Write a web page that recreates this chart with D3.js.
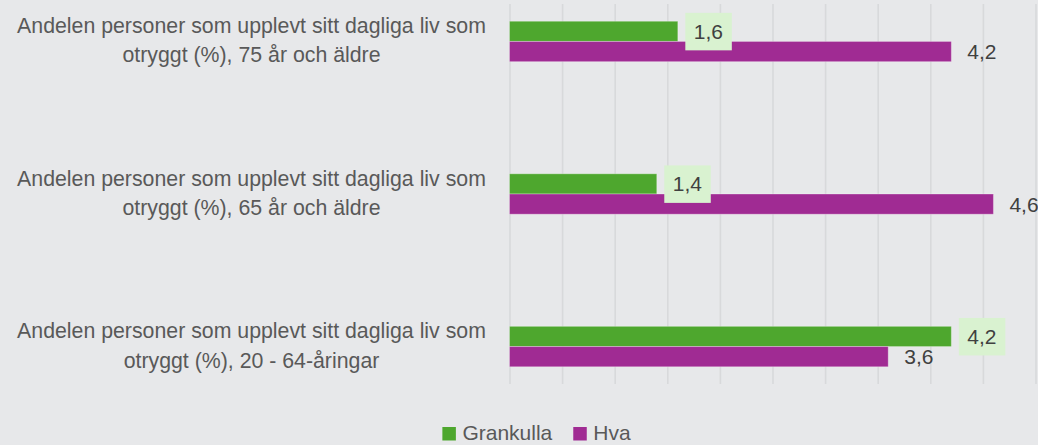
<!DOCTYPE html>
<html>
<head>
<meta charset="utf-8">
<script src="https://cdn.jsdelivr.net/npm/d3@7"></script>
<style>
  html, body { margin: 0; padding: 0; background: #e7e8ea; }
  svg { display: block; }
</style>
</head>
<body>
<svg id="chart" width="1038" height="445"></svg>
<script>
// Kategorier (uppifrån och ned)
const categories = [
  "Andelen personer som upplevt sitt dagliga liv som otryggt (%), 75 år och äldre",
  "Andelen personer som upplevt sitt dagliga liv som otryggt (%), 65 år och äldre",
  "Andelen personer som upplevt sitt dagliga liv som otryggt (%), 20 - 64-åringar"
];
const seriesNames = ["Grankulla", "Hva"];
const grankulla = [1.6, 1.4, 4.2];
const hva = [4.2, 4.6, 3.6];
const xTicks = [0, 0.5, 1, 1.5, 2, 2.5, 3, 3.5, 4, 4.5, 5];

const colors = { Grankulla: "#4ea72e", Hva: "#a02b93" };
const labelBox = "#d9f2d0";
const fontFamily = "'Liberation Sans', Arial, sans-serif";

const series = [
  { name: "Grankulla", values: grankulla },
  { name: "Hva", values: hva }
];

const svg = d3.select("#chart");
const plot = { left: 509.5, right: 1035.5, top: 4, bottom: 384 };

const x = d3.scaleLinear().domain([0, 5]).range([plot.left, plot.right]);
const y = d3.scaleBand()
  .domain(categories)
  .range([plot.top, plot.bottom])
  .paddingInner(0.735)
  .paddingOuter(0.113);
const ySeries = d3.scaleBand()
  .domain(seriesNames)
  .range([0, y.bandwidth()]);

const locale = d3.formatLocale({ decimal: ",", thousands: " ", grouping: [3], currency: ["", " €"] });
const fmt = locale.format(".1f");

// Vertikala stödlinjer
const xAxis = d3.axisBottom(x).tickValues(xTicks).tickSize(-(plot.bottom - plot.top)).tickFormat("");
const gx = svg.append("g")
  .attr("transform", `translate(0,${plot.bottom})`)
  .call(xAxis);
gx.select(".domain").remove();
gx.selectAll(".tick line").attr("stroke", "#d8d9db").attr("stroke-width", 1.6);

// Staplar
const groups = svg.append("g").selectAll("g")
  .data(series)
  .join("g");

groups.selectAll("rect")
  .data(s => s.values.map((v, i) => ({ name: s.name, v, cat: categories[i] })))
  .join("rect")
  .attr("x", x(0))
  .attr("y", d => y(d.cat) + ySeries(d.name))
  .attr("width", d => x(d.v) - x(0))
  .attr("height", ySeries.bandwidth())
  .attr("fill", d => colors[d.name])
  .attr("stroke", "rgba(255,255,255,0.3)")
  .attr("stroke-width", 1);

// Dataetiketter
const labels = svg.append("g");
series.forEach(s => {
  s.values.forEach((v, i) => {
    const cy = y(categories[i]) + ySeries(s.name) + ySeries.bandwidth() / 2;
    const tx = x(v) + 16;
    const g = labels.append("g");
    if (s.name === "Grankulla") {
      g.append("rect")
        .attr("x", x(v) + 7.5)
        .attr("y", cy - 18.5)
        .attr("width", 46.5)
        .attr("height", 37.5)
        .attr("fill", labelBox);
    }
    g.append("text")
      .attr("x", tx)
      .attr("y", cy)
      .attr("dy", "0.36em")
      .attr("font-family", fontFamily)
      .attr("font-size", 21)
      .attr("fill", "#404040")
      .text(fmt(v));
  });
});

// Kategorietiketter, radbrutna
const catG = svg.append("g");
const maxWidth = 490;
categories.forEach(c => {
  const cy = y(c) + y.bandwidth() / 2;
  const t = catG.append("text")
    .attr("x", 251.5)
    .attr("text-anchor", "middle")
    .attr("font-family", fontFamily)
    .attr("font-size", 21.3)
    .attr("fill", "#595959");
  const words = c.split(" ");
  const lines = [];
  let line = [];
  const probe = t.append("tspan");
  words.forEach(w => {
    const trial = line.concat(w).join(" ");
    probe.text(trial);
    if (probe.node().getComputedTextLength() > maxWidth && line.length) {
      lines.push(line.join(" "));
      line = [w];
    } else {
      line.push(w);
    }
  });
  lines.push(line.join(" "));
  probe.remove();
  const lh = 29.5;
  const first = cy - 8.5 - (lines.length - 2) * lh / 2;
  lines.forEach((l, k) => {
    t.append("tspan").attr("x", 251.5).attr("y", first + k * lh).text(l);
  });
});

// Förklaring
const legend = svg.append("g");
let lx = 0;
seriesNames.forEach(n => {
  const it = legend.append("g").attr("transform", `translate(${lx},0)`);
  it.append("rect").attr("x", 0).attr("y", 427).attr("width", 13.5).attr("height", 13.5).attr("fill", colors[n]);
  const tt = it.append("text")
    .attr("x", 20)
    .attr("y", 440.3)
    .attr("font-family", fontFamily)
    .attr("font-size", 21)
    .attr("fill", "#595959")
    .text(n);
  lx += 20 + tt.node().getComputedTextLength() + 21;
});
const legendWidth = lx - 21;
legend.attr("transform", `translate(${536.5 - legendWidth / 2},0)`);
</script>
</body>
</html>
